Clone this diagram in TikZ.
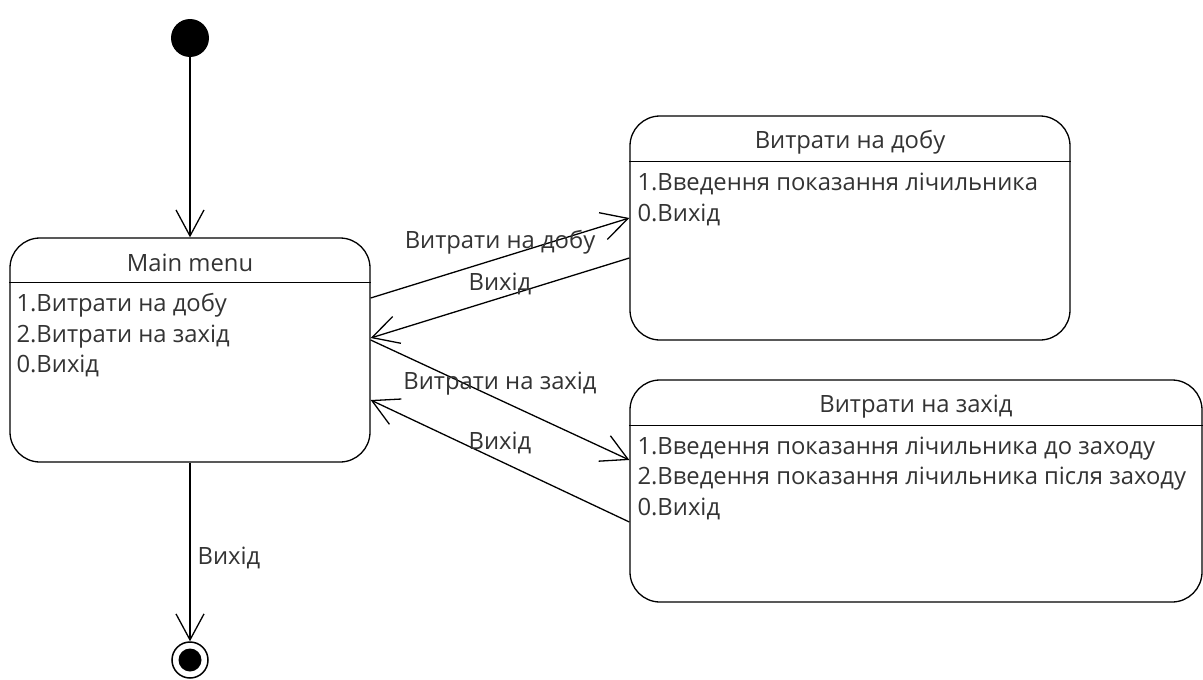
\documentclass[tikz,border=0pt]{standalone}
\usepackage{fontspec}
\setmainfont{Open Sans}
\usetikzlibrary{arrows.meta,calc}
\definecolor{ink}{HTML}{333333}
\tikzset{
  statebox/.style={draw=black, line width=1.3pt, rounded corners=30pt, inner sep=0pt},
  sepline/.style={draw=black, line width=1.3pt},
  lbl/.style={inner sep=0pt, text=ink, font=\fontsize{23.8}{28}\selectfont},
  conn/.style={draw=black, line width=1.3pt, -{Straight Barb[length=26pt,width=28pt,line width=1.3pt]}},
}
\begin{document}
\begin{tikzpicture}[x=1pt, y=-1pt]
\useasboundingbox (0,0) rectangle (1203,680);

% initial and final pseudo-states
\node[circle, fill=black, minimum size=38pt, inner sep=0pt] (init) at (190,38) {};
\node[circle, draw=black, line width=1.5pt, minimum size=36pt, inner sep=0pt] (final) at (190,660) {};
\node[circle, fill=black, minimum size=23pt, inner sep=0pt] (finalcore) at (190,660) {};

% main menu state
\node[statebox, minimum width=360pt, minimum height=224pt] (main) at (190,350) {};
\draw[sepline] ([yshift=-45pt]main.north west) -- ([yshift=-45pt]main.north east);
\node[lbl, anchor=base] (mainT) at ([yshift=-34pt]main.north) {Main menu};
\node[lbl, anchor=base west] (main1) at ([xshift=7pt,yshift=-74.5pt]main.north west) {1.Витрати на добу};
\node[lbl, anchor=base west] (main2) at ([xshift=7pt,yshift=-105pt]main.north west) {2.Витрати на захід};
\node[lbl, anchor=base west] (main3) at ([xshift=7pt,yshift=-135.5pt]main.north west) {0.Вихід};

% daily consumption state
\node[statebox, minimum width=440pt, minimum height=224pt] (dobu) at (850,228) {};
\draw[sepline] ([yshift=-46pt]dobu.north west) -- ([yshift=-46pt]dobu.north east);
\node[lbl, anchor=base] (dobuT) at ([yshift=-33pt]dobu.north) {Витрати на добу};
\node[lbl, anchor=base west] (dobu1) at ([xshift=8pt,yshift=-75.5pt]dobu.north west) {1.Введення показання лічильника};
\node[lbl, anchor=base west] (dobu2) at ([xshift=8pt,yshift=-106pt]dobu.north west) {0.Вихід};

% event consumption state
\node[statebox, minimum width=572pt, minimum height=222pt] (zakhid) at (916,491) {};
\draw[sepline] ([yshift=-46pt]zakhid.north west) -- ([yshift=-46pt]zakhid.north east);
\node[lbl, anchor=base] (zakhidT) at ([yshift=-33pt]zakhid.north) {Витрати на захід};
\node[lbl, anchor=base west] (zakhid1) at ([xshift=8pt,yshift=-75pt]zakhid.north west) {1.Введення показання лічильника до заходу};
\node[lbl, anchor=base west] (zakhid2) at ([xshift=8pt,yshift=-105.5pt]zakhid.north west) {2.Введення показання лічильника після заходу};
\node[lbl, anchor=base west] (zakhid3) at ([xshift=8pt,yshift=-136pt]zakhid.north west) {0.Вихід};

% transitions
\draw[conn] (init) -- (main.north);
\draw[conn] (main.south) -- (final.north);
\draw[conn] ([yshift=52pt]main.east) -- ([yshift=10pt]dobu.west);
\draw[conn] ([yshift=-30pt]dobu.west) -- ([yshift=12pt]main.east);
\draw[conn] ([yshift=10pt]main.east) -- ([yshift=31pt]zakhid.west);
\draw[conn] ([yshift=-31pt]zakhid.west) -- ([yshift=-50pt]main.east);

% transition labels
\node[lbl] (t1) at (500,242) {Витрати на добу};
\node[lbl] (t2) at (500,284) {Вихід};
\node[lbl] (t3) at (500,384) {Витрати на захід};
\node[lbl] (t4) at (500,443) {Вихід};
\node[lbl] (t5) at (229,558) {Вихід};
\end{tikzpicture}
\end{document}
